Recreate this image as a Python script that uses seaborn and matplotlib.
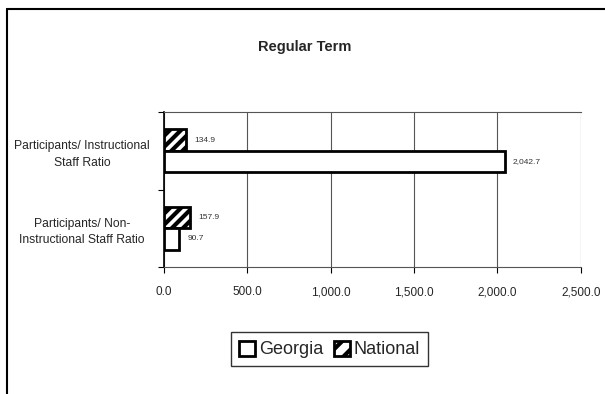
import pandas as pd
import seaborn as sns
import matplotlib.pyplot as plt
from matplotlib.patches import Patch
from matplotlib.lines import Line2D

categories = ['Participants/ Instructional\nStaff Ratio',
              'Participants/ Non-\nInstructional Staff Ratio']
georgia = [2042.7, 90.7]
national = [134.9, 157.9]
x_ticks = [0, 500, 1000, 1500, 2000, 2500]

df = pd.DataFrame({
    'category': categories * 2,
    'value': national + georgia,
    'group': ['National'] * 2 + ['Georgia'] * 2,
})

sns.set_style('white')
plt.rcParams['font.family'] = ['Liberation Sans Narrow', 'Liberation Sans', 'DejaVu Sans']
plt.rcParams['hatch.linewidth'] = 3.0

fig = plt.figure(figsize=(6.05, 3.94), dpi=100)
ax = fig.add_axes([0.271, 0.3223, 0.689, 0.3934])

sns.barplot(data=df, y='category', x='value', hue='group', hue_order=['National', 'Georgia'],
            orient='h', width=0.55, palette={'National': 'white', 'Georgia': 'white'},
            edgecolor='black', linewidth=2, legend=False, ax=ax)

# hatch national bars
for bar in ax.containers[0]:
    bar.set_hatch('///')

# value labels
for cont in ax.containers:
    ax.bar_label(cont, labels=[f'{v.get_width():,.1f}' for v in cont],
                 padding=6, fontsize=6, color='#333333')

ax.set_xlim(0, 2500)
ax.set_ylim(1.5, -0.5)
ax.set_xticks(x_ticks)
ax.set_xticklabels([f'{t:,.1f}' for t in x_ticks], fontsize=8.5)
ax.set_yticks([-0.5, 0.5, 1.5])
ax.set_yticklabels([])
ax.set_yticks([0, 1], minor=True)
ax.set_yticklabels(categories, minor=True, fontsize=8.7, ha='center',
                   multialignment='center', linespacing=1.5)
ax.tick_params(axis='y', which='minor', length=0, pad=59)
ax.tick_params(axis='y', which='major', direction='out', length=4, left=True, color='black')
ax.tick_params(axis='x', direction='out', length=4, bottom=True, color='black', pad=10)
ax.grid(axis='x', color='#555555', linewidth=0.8)
ax.set_axisbelow(True)
ax.set_xlabel('')
ax.set_ylabel('')
for side in ['top', 'bottom']:
    ax.spines[side].set_visible(True)
    ax.spines[side].set_color('#555555')
    ax.spines[side].set_linewidth(0.8)
ax.spines['left'].set_color('black')
ax.spines['left'].set_linewidth(1.2)
ax.spines['right'].set_visible(False)

fig.text(0.503, 0.881, 'Regular Term', ha='center', va='center', fontsize=10.5, fontweight='bold')

handles = [Patch(facecolor='white', edgecolor='black', linewidth=2, label='Georgia'),
           Patch(facecolor='white', edgecolor='black', linewidth=2, hatch='//', label='National')]
fig.legend(handles=handles, loc='center', bbox_to_anchor=(0.545, 0.113), ncol=2,
           fontsize=13, frameon=True, fancybox=False, edgecolor='black',
           handlelength=0.9, handleheight=0.9, handletextpad=0.2, columnspacing=0.6,
           borderpad=0.45)

# outer chart frame (only left and top visible)
fig.add_artist(Line2D([7 / 605, 7 / 605], [0, 1 - 9 / 394], color='black', linewidth=1.5))
fig.add_artist(Line2D([7 / 605, 1], [1 - 9 / 394, 1 - 9 / 394], color='black', linewidth=1.5))

fig.savefig('out.png', dpi=100)
